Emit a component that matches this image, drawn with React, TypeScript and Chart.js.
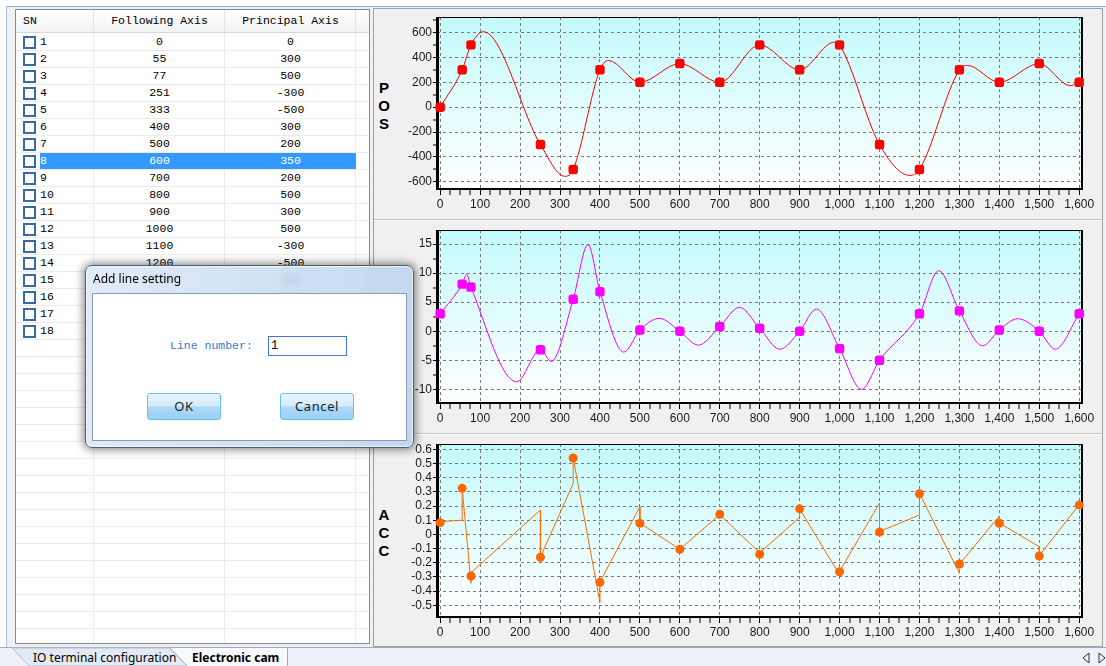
import React, { useEffect, useRef } from 'react';
import { Chart, registerables } from 'chart.js';

Chart.register(...registerables);

// ---------------- table data ----------------
const rowSN = [1, 2, 3, 4, 5, 6, 7, 8, 9, 10, 11, 12, 13, 14, 15, 16, 17, 18];
const followingAxis = [0, 55, 77, 251, 333, 400, 500, 600, 700, 800, 900, 1000, 1100, 1200, 1300, 1400, 1500, 1600];
const principalAxis = [0, 300, 500, -300, -500, 300, 200, 350, 200, 500, 300, 500, -300, -500, 300, 200, 350, 200];
const selectedRow = 8;
const tableHeaders = ['SN', 'Following Axis', 'Principal Axis'];

// ---------------- POS chart ----------------
const posCurveX = [0, 55, 77, 108, 251, 312, 333, 400, 421, 500, 600, 700, 800, 900, 987, 1000, 1100, 1176, 1200, 1300, 1320, 1400, 1500, 1578, 1600];
const posCurveY = [0, 300, 500, 606, -300, -555, -500, 300, 375, 200, 350, 200, 500, 300, 522, 500, -300, -548, -500, 300, 335, 200, 350, 172, 200];

// ---------------- VEL chart ----------------
const velCurveX = [0, 55, 66, 77, 191, 251, 278, 333, 370, 400, 460, 500, 549, 600, 646, 700, 749, 800, 850, 900, 942, 1000, 1055, 1100, 1200, 1248, 1300, 1358, 1400, 1446, 1500, 1540, 1600];
const velCurveY = [3.0, 8.1, 9.8, 7.6, -8.7, -3.2, -5.2, 5.5, 14.9, 6.8, -3.6, 0.2, 2.2, 0, -2.4, 0.8, 4.1, 0.5, -3.1, 0, 3.8, -3.0, -10.0, -5.0, 3.0, 10.4, 3.5, -2.5, 0.2, 2.15, 0, -3.1, 3.0];
const velMarkY = [3.0, 8.1, 7.6, -3.2, 5.5, 6.8, 0.2, 0, 0.8, 0.5, 0, -3.0, -5.0, 3.0, 3.5, 0.2, 0, 3.0];

// ---------------- ACC chart ----------------
const accLineX = [0, 55, 55, 77, 77, 251, 251, 333, 333, 400, 400, 500, 500, 600, 700, 800, 900, 900, 1000, 1000, 1100, 1100, 1200, 1200, 1300, 1300, 1400, 1400, 1500, 1500, 1600];
const accLineY = [0.09, 0.10, 0.325, -0.345, -0.27, 0.172, -0.16, 0.36, 0.54, -0.48, -0.335, 0.195, 0.08, -0.105, 0.14, -0.13, 0.12, 0.18, -0.285, -0.26, 0.22, 0.02, 0.137, 0.29, -0.274, -0.21, 0.13, 0.08, -0.087, -0.15, 0.21];
const accMarkY = [0.083, 0.325, -0.293, -0.161, 0.539, -0.338, 0.078, -0.105, 0.142, -0.14, 0.18, -0.263, 0.017, 0.287, -0.209, 0.078, -0.152, 0.207];

const xAxisMin = -8;
const xAxisMax = 1607;

const FONT_MONO = '"Liberation Mono", "DejaVu Sans Mono", monospace';
const FONT_UI = '"Noto Sans", "Open Sans", sans-serif';
const FONT_AXIS = '"Liberation Sans", Arial, sans-serif';

const zip = (xs: number[], ys: number[]) => xs.map((x, i) => ({ x, y: ys[i] }));

const plotFrame = {
  id: 'plotFrame',
  beforeDraw(chart: any) {
    const { ctx, chartArea: a } = chart;
    const g = ctx.createLinearGradient(0, a.top, 0, a.bottom);
    g.addColorStop(0, '#c3fafb');
    g.addColorStop(1, '#ffffff');
    ctx.save();
    ctx.fillStyle = g;
    ctx.fillRect(a.left, a.top, a.right - a.left, a.bottom - a.top);
    ctx.restore();
  },
  beforeDatasetsDraw(chart: any) {
    const { ctx, chartArea: a } = chart;
    ctx.save();
    ctx.fillStyle = '#000';
    ctx.fillRect(a.left, a.top, a.right - a.left, 1);
    ctx.fillRect(a.right - 1, a.top, 2, a.bottom - a.top);
    ctx.fillRect(a.left - 1, a.top, 3, a.bottom - a.top + 1);
    ctx.fillRect(a.left - 1, a.bottom - 1, a.right - a.left + 2, 2);
    ctx.restore();
  },
};

type Spec = {
  top: number;
  height: number;
  padTop: number;
  xAxisH: number;
  yMin: number;
  yMax: number;
  yStep: number;
  yLabelStep: number;
  yDecimals: number;
  color: string;
  markerColor: string;
  line: { x: number; y: number }[];
  marks: { x: number; y: number }[];
  smooth: boolean;
  markerStyle: string;
  markerRadius: number;
};

const isMult = (v: number, s: number) => Math.abs(v / s - Math.round(v / s)) < 1e-6;

function CamChart({ spec }: { spec: Spec }) {
  const ref = useRef<HTMLCanvasElement>(null);
  useEffect(() => {
    const s = spec;
    const chart = new Chart(ref.current as HTMLCanvasElement, {
      type: 'line',
      data: {
        datasets: [
          {
            data: s.line,
            borderColor: s.color,
            borderWidth: 1,
            pointRadius: 0,
            fill: false,
            tension: s.smooth ? 0.4 : 0,
            cubicInterpolationMode: s.smooth ? 'monotone' : 'default',
          } as any,
          {
            data: s.marks,
            showLine: false,
            pointRadius: s.markerRadius,
            pointStyle: s.markerStyle,
            pointBackgroundColor: s.markerColor,
            pointBorderColor: s.markerColor,
            pointBorderWidth: 0,
            clip: false,
          } as any,
        ],
      },
      options: {
        animation: false,
        responsive: false,
        devicePixelRatio: 1,
        events: [],
        layout: { padding: { top: s.padTop, right: 21, left: 0, bottom: 0 } },
        plugins: { legend: { display: false }, tooltip: { enabled: false } },
        scales: {
          x: {
            type: 'linear',
            min: xAxisMin,
            max: xAxisMax,
            afterFit: (sc: any) => {
              sc.height = s.xAxisH;
            },
            ticks: {
              stepSize: 25,
              autoSkip: false,
              maxRotation: 0,
              includeBounds: false,
              padding: 2,
              color: '#1a1a1a',
              font: { family: FONT_AXIS, size: 12 },
              callback: (v: any) => (isMult(v, 100) ? Number(v).toLocaleString('en-US') : ''),
            },
            grid: {
              color: (c: any) => (c.tick && isMult(c.tick.value, 100) ? '#7a7a7a' : 'rgba(0,0,0,0)'),
              lineWidth: (c: any) => (c.tick && isMult(c.tick.value, 100) ? 1 : 0),
              tickLength: 6,
              tickColor: '#000',
              tickWidth: 1,
            },
            border: { display: false, dash: [3, 3] },
          } as any,
          y: {
            type: 'linear',
            min: s.yMin,
            max: s.yMax,
            afterFit: (sc: any) => {
              sc.width = 65;
            },
            ticks: {
              stepSize: s.yStep,
              autoSkip: false,
              includeBounds: false,
              padding: 1,
              color: '#1a1a1a',
              font: { family: FONT_AXIS, size: 12 },
              callback: (v: any) => {
                if (!isMult(v, s.yLabelStep)) return '';
                const r = Math.round(v / s.yLabelStep) * s.yLabelStep;
                if (Math.abs(r) < 1e-9) return '0';
                return r.toFixed(s.yDecimals);
              },
            },
            grid: {
              color: (c: any) => (c.tick && isMult(c.tick.value, s.yLabelStep) ? '#7a7a7a' : 'rgba(0,0,0,0)'),
              lineWidth: (c: any) => (c.tick && isMult(c.tick.value, s.yLabelStep) ? 1 : 0),
              tickLength: 4,
              tickColor: '#000',
              tickWidth: 1,
            },
            border: { display: false, dash: [3, 3] },
          } as any,
        },
      },
      plugins: [plotFrame],
    });
    return () => chart.destroy();
  }, []);
  return (
    <canvas
      ref={ref}
      width={731}
      height={spec.height}
      style={{ position: 'absolute', left: 372, top: spec.top, width: 731, height: spec.height }}
    />
  );
}

const posSpec: Spec = {
  top: 8, height: 210, padTop: 9, xAxisH: 29,
  yMin: -657, yMax: 724, yStep: 100, yLabelStep: 200, yDecimals: 0,
  color: '#ff0000', markerColor: '#ff0000',
  line: zip(posCurveX, posCurveY), marks: zip(followingAxis, principalAxis),
  smooth: true, markerStyle: 'rectRounded', markerRadius: 5.5,
};
const velSpec: Spec = {
  top: 220, height: 212, padTop: 10, xAxisH: 29,
  yMin: -12.35, yMax: 17.41, yStep: 2.5, yLabelStep: 5, yDecimals: 0,
  color: '#ff00ff', markerColor: '#ff00ff',
  line: zip(velCurveX, velCurveY), marks: zip(followingAxis, velMarkY),
  smooth: true, markerStyle: 'rectRounded', markerRadius: 5.5,
};
const accSpec: Spec = {
  top: 434, height: 213, padTop: 10, xAxisH: 30,
  yMin: -0.5824, yMax: 0.6374, yStep: 0.1, yLabelStep: 0.1, yDecimals: 1,
  color: '#ff6a00', markerColor: '#ff6600',
  line: zip(accLineX, accLineY), marks: zip(followingAxis, accMarkY),
  smooth: false, markerStyle: 'circle', markerRadius: 4.5,
};

function StackedLabel({ text, top }: { text: string; top: number }) {
  return (
    <div
      style={{
        position: 'absolute', left: 376, top, width: 16, textAlign: 'center',
        fontFamily: FONT_AXIS, fontWeight: 'bold', fontSize: 15, lineHeight: '18px', color: '#000',
      }}
    >
      {text.split('').map((ch, i) => (
        <div key={i}>{ch}</div>
      ))}
    </div>
  );
}

function Checkbox({ top }: { top: number }) {
  return (
    <div
      style={{
        position: 'absolute', left: 23, top, width: 13, height: 13, boxSizing: 'border-box',
        border: '2px solid #3a6aa3', background: '#fff',
      }}
    />
  );
}

const monoText = (size: number, lh: number, color: string) => ({
  fontFamily: FONT_MONO,
  fontSize: size,
  lineHeight: lh + 'px',
  color,
  whiteSpace: 'nowrap' as const,
});

function Table() {
  const rows: any[] = [];
  const totalRows = 36;
  for (let i = 0; i < totalRows; i++) {
    const top = 34 + 17 * i;
    rows.push(
      <div key={'l' + i} style={{ position: 'absolute', left: 16, top: top + 16, width: 353, height: 1, background: '#ececec' }} />
    );
    if (i < rowSN.length) {
      const sel = rowSN[i] === selectedRow;
      if (sel) {
        rows.push(<div key={'h' + i} style={{ position: 'absolute', left: 40, top, width: 316, height: 16, background: '#3399ff' }} />);
      }
      const col = sel ? '#fff' : '#000';
      const txt = { position: 'absolute' as const, top, height: 15, ...monoText(11.5, 15, col) };
      rows.push(<Checkbox key={'c' + i} top={top + 2} />);
      rows.push(<div key={'s' + i} style={{ ...txt, left: 40 }}>{rowSN[i]}</div>);
      rows.push(<div key={'f' + i} style={{ ...txt, left: 94, width: 131, textAlign: 'center' }}>{followingAxis[i]}</div>);
      rows.push(<div key={'p' + i} style={{ ...txt, left: 225, width: 131, textAlign: 'center' }}>{principalAxis[i]}</div>);
    }
  }
  const colLines = [94, 225, 356];
  const head = { position: 'absolute' as const, top: 10, height: 22, ...monoText(11.5, 22, '#000') };
  return (
    <>
      <div style={{ position: 'absolute', left: 15, top: 9, width: 355, height: 635, boxSizing: 'border-box', border: '1px solid #868b94', background: '#fff' }} />
      <div style={{ position: 'absolute', left: 16, top: 10, width: 353, height: 22, background: 'linear-gradient(#ffffff, #f1f2f4)', borderBottom: '1px solid #d8d8d8' }} />
      {colLines.map((x) => (
        <div key={'hc' + x} style={{ position: 'absolute', left: x - 1, top: 10, width: 1, height: 22, background: '#e2e3e6' }} />
      ))}
      {colLines.map((x) => (
        <div key={'bc' + x} style={{ position: 'absolute', left: x - 1, top: 33, width: 1, height: 610, background: '#ececec' }} />
      ))}
      <div style={{ ...head, left: 23 }}>{tableHeaders[0]}</div>
      <div style={{ ...head, left: 94, width: 131, textAlign: 'center' }}>{tableHeaders[1]}</div>
      <div style={{ ...head, left: 225, width: 131, textAlign: 'center' }}>{tableHeaders[2]}</div>
      {rows}
    </>
  );
}

function Dialog() {
  const btn = {
    position: 'absolute' as const, top: 393, width: 74, height: 27, boxSizing: 'border-box' as const,
    border: '1px solid #5fc6ea', borderRadius: 3,
    background: 'linear-gradient(#e6f5fe 0%, #d3ecfc 48%, #acd9f8 52%, #9ccff5 100%)',
    fontFamily: FONT_UI, fontSize: 13, letterSpacing: '0.6px', color: '#1c1c1c', textAlign: 'center' as const, lineHeight: '25px',
  };
  return (
    <>
      <div
        style={{
          position: 'absolute', left: 85, top: 265, width: 329, height: 183, boxSizing: 'border-box',
          borderRadius: 7, border: '1px solid #4f5c6e',
          background: 'linear-gradient(100deg, rgba(220,233,247,0.88) 0%, rgba(205,223,243,0.86) 40%, rgba(186,210,238,0.86) 100%)',
          backdropFilter: 'blur(3px)',
          boxShadow: '0 0 9px 2px rgba(0,0,0,0.45), inset 0 0 0 1px rgba(255,255,255,0.7)',
        }}
      />
      <div style={{ position: 'absolute', left: 93, top: 270, height: 18, fontFamily: FONT_UI, fontSize: 12, lineHeight: '18px', color: '#000', whiteSpace: 'nowrap' }}>Add line setting</div>
      <div style={{ position: 'absolute', left: 92, top: 293, width: 315, height: 148, boxSizing: 'border-box', border: '1px solid #8b9bb0', background: '#fff' }} />
      <div style={{ position: 'absolute', left: 170, top: 338, height: 16, ...monoText(11.5, 16, '#3f77d2') }}>Line number:</div>
      <div style={{ position: 'absolute', left: 268, top: 336, width: 79, height: 20, boxSizing: 'border-box', border: '1px solid #3f77d2', background: '#fff' }} />
      <div style={{ position: 'absolute', left: 271, top: 338, height: 16, ...monoText(12, 16, '#000') }}>1</div>
      <div style={{ ...btn, left: 147 }}>OK</div>
      <div style={{ ...btn, left: 280 }}>Cancel</div>
    </>
  );
}

function TabBar() {
  return (
    <svg width={1106} height={19} style={{ position: 'absolute', left: 0, top: 647 }}>
      <rect x={0} y={0} width={1106} height={19} fill="#eef1fa" />
      <rect x={0} y={0} width={1106} height={1} fill="#9aabc2" />
      <polygon points="12,1 170,1 187,19 29,19" fill="#e4eaf5" stroke="#b3bfd0" strokeWidth={1} />
      <polygon points="170,1 287,1 287,19 187,19" fill="#f7f9fd" />
      <line x1={170} y1={1} x2={187} y2={19} stroke="#9aabc2" strokeWidth={1} />
      <line x1={287.5} y1={1} x2={287.5} y2={19} stroke="#9aabc2" strokeWidth={1} />
      <text x={33} y={15} fontFamily='"Noto Sans", sans-serif' fontSize={12} fill="#000">IO terminal configuration</text>
      <text x={192} y={15} fontFamily='"Noto Sans", sans-serif' fontSize={12} fontWeight="bold" fill="#000">Electronic cam</text>
      <polygon points="1089,6 1089,16 1083,11" fill="none" stroke="#333" strokeWidth={1} />
      <polygon points="1099,6 1099,16 1105,11" fill="none" stroke="#333" strokeWidth={1} />
    </svg>
  );
}

export default function App() {
  return (
    <div style={{ position: 'fixed', left: 0, top: 0, width: 1106, height: 666, overflow: 'hidden', background: '#ffffff' }}>
      {/* window frame */}
      <div style={{ position: 'absolute', left: 6, top: 6, width: 1100, height: 642, background: '#f0f0f0' }} />
      <div style={{ position: 'absolute', left: 6, top: 6, width: 1100, height: 1, background: '#8fb4df' }} />
      <div style={{ position: 'absolute', left: 6, top: 6, width: 1, height: 642, background: '#a9c4e6' }} />
      {/* right panel */}
      <div style={{ position: 'absolute', left: 373, top: 8, width: 730, height: 639, boxSizing: 'border-box', border: '1px solid #a0a0a0', background: '#f0f0f0' }} />
      <div style={{ position: 'absolute', left: 374, top: 219, width: 728, height: 1, background: '#c4c4c4' }} />
      <div style={{ position: 'absolute', left: 374, top: 220, width: 728, height: 1, background: '#ffffff' }} />
      <div style={{ position: 'absolute', left: 374, top: 433, width: 728, height: 1, background: '#c4c4c4' }} />
      <div style={{ position: 'absolute', left: 374, top: 434, width: 728, height: 1, background: '#ffffff' }} />
      <StackedLabel text="POS" top={79} />
      <StackedLabel text="VEL" top={296} />
      <StackedLabel text="ACC" top={506} />
      <CamChart spec={posSpec} />
      <CamChart spec={velSpec} />
      <CamChart spec={accSpec} />
      <Table />
      <TabBar />
      <Dialog />
    </div>
  );
}
